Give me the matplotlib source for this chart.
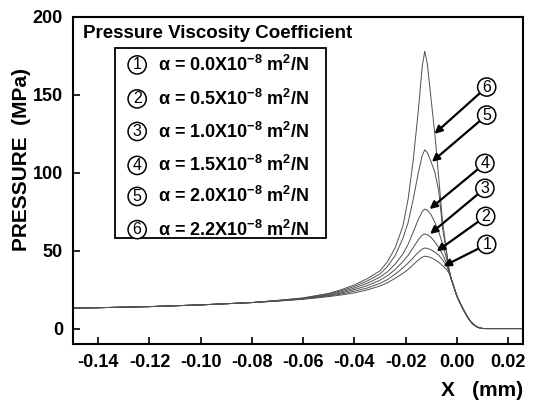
import matplotlib
matplotlib.use('Agg')
import matplotlib.pyplot as plt
from matplotlib.patches import Rectangle

plt.rcParams['font.family'] = ['Liberation Sans', 'DejaVu Sans']
plt.rcParams['font.weight'] = 'bold'
plt.rcParams['mathtext.fontset'] = 'custom'
plt.rcParams['mathtext.rm'] = 'Liberation Sans:bold'
plt.rcParams['mathtext.it'] = 'Liberation Sans:bold'
plt.rcParams['mathtext.bf'] = 'Liberation Sans:bold'
plt.rcParams['mathtext.default'] = 'rm'

# ---- data (x in mm, pressure in MPa) ----
x = [-0.15, -0.14, -0.12, -0.10, -0.08, -0.07, -0.06, -0.05, -0.045, -0.04,
     -0.035, -0.03, -0.027, -0.024, -0.021, -0.019, -0.017, -0.015, -0.0135,
     -0.0125, -0.0115, -0.010, -0.0085, -0.007, -0.0055, -0.004, -0.003,
     -0.002, -0.001, 0.0, 0.001, 0.002, 0.003, 0.004, 0.005, 0.006, 0.007,
     0.008, 0.009, 0.010, 0.011, 0.026]

p_left = [13.2, 13.4, 14.1, 15.2, 16.7]
p_right = [17.5, 14.0, 11.0, 8.0, 5.5, 3.5, 2.0, 1.0, 0.4, 0.1, 0.0, 0.0]

p1 = p_left + [17.6, 18.8, 20.5, 21.6, 22.9, 24.8, 27.3, 29.5, 32.3, 35.5, 38.0,
               41.0, 44.0, 45.8, 46.4, 46.3, 45.5, 44.2, 42.5, 40.3, 38.0, 35.5,
               31.0, 26.5, 21.5] + p_right
p2 = p_left + [17.7, 19.0, 20.9, 22.2, 24.0, 26.0, 29.0, 31.5, 35.0, 39.0, 42.0,
               45.5, 49.0, 51.0, 51.7, 51.5, 50.5, 49.0, 47.0, 44.0, 40.5, 36.5,
               31.0, 26.0, 21.0] + p_right
p3 = p_left + [17.8, 19.1, 21.3, 22.9, 25.0, 27.5, 31.0, 34.0, 38.0, 43.0, 47.0,
               52.0, 57.0, 60.0, 60.7, 60.3, 58.5, 55.5, 52.0, 47.5, 42.0, 37.0,
               31.0, 26.0, 21.0] + p_right
p4 = p_left + [17.9, 19.3, 21.7, 23.6, 26.0, 29.0, 33.0, 36.5, 41.5, 48.0, 54.0,
               62.0, 70.0, 75.0, 76.7, 76.0, 73.0, 68.0, 62.0, 54.0, 45.0, 37.5,
               31.0, 26.0, 21.0] + p_right
p5 = p_left + [18.0, 19.5, 22.2, 24.3, 27.0, 30.5, 35.0, 40.0, 47.0, 58.0, 68.0,
               83.0, 100.0, 111.0, 114.7, 113.0, 107.0, 100.0, 88.0, 64.0, 49.0,
               38.0, 31.0, 26.0, 21.0] + p_right
p6 = p_left + [18.1, 19.7, 22.6, 25.0, 28.0, 32.0, 37.0, 43.0, 52.0, 66.0, 83.0,
               108.0, 140.0, 168.0, 178.0, 170.0, 147.0, 124.0, 96.0, 68.0, 50.0,
               37.0, 31.0, 26.0, 21.0] + p_right
curves = [p1, p2, p3, p4, p5, p6]

alphas = ['0.0', '0.5', '1.0', '1.5', '2.0', '2.2']
labels = ['1', '2', '3', '4', '5', '6']
xticks = [-0.14, -0.12, -0.10, -0.08, -0.06, -0.04, -0.02, 0.00, 0.02]
xticklabels = ['-0.14', '-0.12', '-0.10', '-0.08', '-0.06', '-0.04', '-0.02', '0.00', '0.02']
yticks = [0, 50, 100, 150, 200]

# arrow tips on the curves and positions of the circled labels
tips = [(-0.0052, 40), (-0.0078, 49.6), (-0.0104, 60.7),
        (-0.0106, 76.7), (-0.0097, 107), (-0.0087, 125)]
tags = [(0.0117, 54), (0.0113, 72), (0.011, 90),
        (0.011, 106), (0.0117, 137), (0.0117, 155)]

fig = plt.figure(figsize=(5.34, 4.03), dpi=100)
ax = fig.add_axes([0.136, 0.146, 0.844, 0.812])

for p in curves:
    ax.plot(x, p, color='#505050', lw=0.7)

ax.set_xlim(-0.15, 0.026)
ax.set_ylim(-10, 200)
ax.set_xticks(xticks)
ax.set_xticklabels(xticklabels)
ax.set_yticks(yticks)
ax.tick_params(direction='in', length=5, width=1.2, labelsize=13, pad=7)
for s in ax.spines.values():
    s.set_linewidth(1.5)

ax.set_ylabel('PRESSURE  (MPa)', fontsize=15, fontweight='bold', va='center')
ax.yaxis.set_label_coords(-0.114, 0.563)
fig.text(0.979, 0.03, 'X   (mm)', fontsize=15, fontweight='bold', ha='right', va='center')

ax.text(-0.1459, 189.5, 'Pressure Viscosity Coefficient', fontsize=13.5,
        fontweight='bold', va='center', ha='left')

# legend box
ax.add_patch(Rectangle((-0.1335, 58), 0.0823, 122, fill=False, lw=1.3, ec='black'))
ly = [169.2, 147.4, 126.5, 104.7, 84.8, 63.5]
for i in range(6):
    ax.text(-0.1248, ly[i], labels[i], fontsize=11.5, fontweight='normal',
            ha='center', va='center',
            bbox=dict(boxstyle='circle,pad=0.1', fc='white', ec='black', lw=1.1))
    ax.text(-0.1168, ly[i], r'$\alpha$ = ' + alphas[i] + r'X10$^{-8}$ m$^{2}$/N',
            fontsize=13, fontweight='bold', ha='left', va='center')

# arrows with circled labels
for i in range(6):
    ax.annotate(labels[i], xy=tips[i], xytext=tags[i], fontsize=11.5,
                fontweight='normal', ha='center', va='center',
                bbox=dict(boxstyle='circle,pad=0.1', fc='white', ec='black', lw=1.1),
                arrowprops=dict(arrowstyle='-|>', color='black', lw=1.6,
                                mutation_scale=11, shrinkA=0, shrinkB=0))

fig.savefig('out.png', dpi=100)
